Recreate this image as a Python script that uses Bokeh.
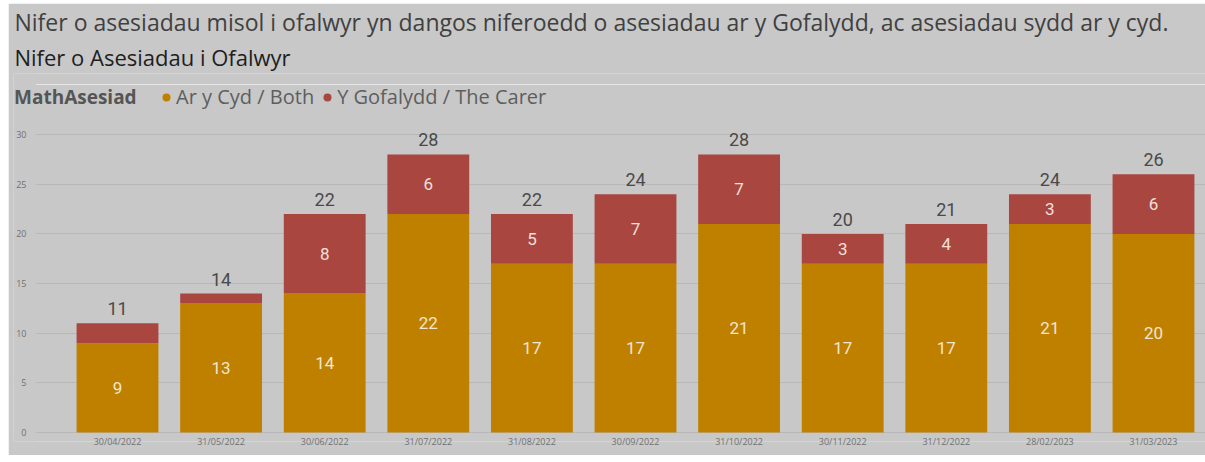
from bokeh.plotting import figure
from bokeh.models import (ColumnDataSource, Range1d, FixedTicker, Title, Legend,
                          LegendItem, Grid, BoxAnnotation)
from bokeh.embed import file_html
from bokeh.resources import INLINE
from bokeh.core.properties import value

# ---- data ----
dates = ["30/04/2022", "31/05/2022", "30/06/2022", "31/07/2022", "31/08/2022",
         "30/09/2022", "31/10/2022", "30/11/2022", "31/12/2022", "28/02/2023",
         "31/03/2023"]
both = [9, 13, 14, 22, 17, 17, 21, 17, 17, 21, 20]
carer = [2, 1, 8, 6, 5, 7, 7, 3, 4, 3, 6]
y_ticks = [0, 5, 10, 15, 20, 25, 30]
series_names = ["Ar y Cyd / Both", "Y Gofalydd / The Carer"]
legend_title = "MathAsesiad"
title_main = "Nifer o asesiadau misol i ofalwyr yn dangos niferoedd o asesiadau ar y Gofalydd, ac asesiadau sydd ar y cyd."
subtitle = "Nifer o Asesiadau i Ofalwyr"

# ---- styles ----
BG = "#c8c8c8"
C_BOTH = "#bf8000"
C_CARER = "#a8463f"
FONT = "Open Sans"
NUMFONT = "Roboto"
X0, X1 = -1.004, 10.502      # view range (left margin holds the y labels)
GRID_START = -0.79           # grid lines begin here

x = list(range(len(dates)))
total = [a + b for a, b in zip(both, carer)]
src = ColumnDataSource(dict(
    x=x, both=both, carer=carer, total=total,
    both_mid=[a / 2 for a in both],
    carer_mid=[a + b / 2 for a, b in zip(both, carer)],
    both_txt=[str(a) for a in both],
    carer_txt=[str(b) if b >= 3 else "" for b in carer],
    total_txt=[str(t) for t in total],
))
ysrc = ColumnDataSource(dict(y=y_ticks, x=[X0] * len(y_ticks),
                             t=[str(v) for v in y_ticks]))

p = figure(width=1197, height=452, output_backend="svg", toolbar_location=None,
           x_range=Range1d(X0, X1), y_range=Range1d(-0.9, 36.15),
           y_axis_location=None,
           min_border_left=5, min_border_right=0, min_border_bottom=14,
           min_border_top=0, title=None)
p.margin = (3, 0, 0, 8)
p.background_fill_color = BG
p.border_fill_color = BG
p.outline_line_color = None

# horizontal grid lines, masked left of the plot area
p.add_layout(Grid(dimension=1, ticker=FixedTicker(ticks=y_ticks),
                  grid_line_color="#b8b8b8", grid_line_width=1))
p.add_layout(BoxAnnotation(right=GRID_START, fill_color=BG, fill_alpha=1,
                           line_color=None, level="underlay"))

# y tick labels
p.text(x="x", y="y", text="t", source=ysrc, x_offset=13, text_align="right",
       text_baseline="middle", text_font=value(FONT), text_font_size="9px",
       text_color="#707070")

p.vbar(x="x", bottom=0, top="both", width=0.79, source=src,
       fill_color=C_BOTH, line_color=None)
p.vbar(x="x", bottom="both", top="total", width=0.79, source=src,
       fill_color=C_CARER, line_color=None)

p.text(x="x", y="both_mid", text="both_txt", source=src, text_align="center",
       text_baseline="middle", text_font=value(NUMFONT), text_font_size="17px",
       text_color="#f2e6d0")
p.text(x="x", y="carer_mid", text="carer_txt", source=src, text_align="center",
       text_baseline="middle", text_font=value(NUMFONT), text_font_size="17px",
       text_color="#f2e0dc")
p.text(x="x", y="total", text="total_txt", source=src, text_align="center",
       text_baseline="bottom", y_offset=-8, text_font=value(NUMFONT),
       text_font_size="18px", text_color="#4a4a4a")

# legend renderers (size 0: invisible in the plot, legend draws its own dot)
r1 = p.scatter(x="x", y="both", source=src, marker="circle", size=0,
               fill_color=C_BOTH, line_color=None)
r2 = p.scatter(x="x", y="total", source=src, marker="circle", size=0,
               fill_color=C_CARER, line_color=None)

def base_legend(lg):
    lg.label_text_font = FONT
    lg.padding = 0
    lg.margin = 0
    lg.background_fill_alpha = 0
    lg.border_line_color = None
    lg.glyph_height = 26
    lg.label_height = 26
    lg.label_standoff = 0

leg_t = Legend(items=[LegendItem(label=legend_title, renderers=[r1])],
               orientation="horizontal", location=(1, 331))
base_legend(leg_t)
leg_t.glyph_width = 0
leg_t.label_text_font_size = "19px"
leg_t.label_text_font_style = "bold"
leg_t.label_text_color = "#555555"
p.add_layout(leg_t, "center")

leg = Legend(items=[LegendItem(label=series_names[0], renderers=[r1]),
                    LegendItem(label=series_names[1], renderers=[r2])],
             orientation="horizontal", location=(143, 331))
base_legend(leg)
leg.label_text_font_size = "20px"
leg.label_text_color = "#5e5e5e"
leg.glyph_width = 20
leg.spacing = 3
p.add_layout(leg, "center")

t2 = Title(text=subtitle, align="left", text_font=FONT, text_font_size="22px",
           text_font_style="normal", text_color="#1e1e1e", standoff=4, offset=1)
p.add_layout(t2, "above")
t1 = Title(text=title_main, align="left", text_font=FONT, text_font_size="23px",
           text_font_style="normal", text_color="#404040", standoff=0, offset=1)
p.add_layout(t1, "above")

# x axis
p.xaxis.ticker = FixedTicker(ticks=x)
p.xaxis.major_label_overrides = {i: d for i, d in zip(x, dates)}
p.xaxis.axis_line_color = None
p.xaxis.major_tick_line_color = None
p.xaxis.minor_tick_line_color = None
p.xaxis.major_tick_out = 0
p.xaxis.major_tick_in = 0
p.xaxis.major_label_text_font = FONT
p.xaxis.major_label_text_font_size = "9px"
p.xaxis.major_label_text_color = "#707070"
p.xaxis.major_label_standoff = -7
p.xgrid.visible = False

open("out.html", "w").write(file_html(p, INLINE))
